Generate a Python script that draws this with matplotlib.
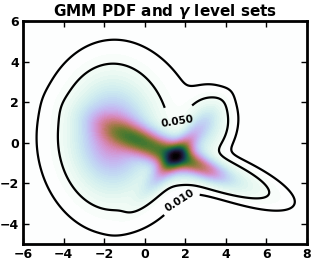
import numpy as np
import matplotlib
matplotlib.use("Agg")
import matplotlib.pyplot as plt

plt.rcParams['font.weight'] = 'bold'

# GMM components: weight, mean, std along main axis, std across, angle (deg)
weights = [0.63, 2.3, 0.8, 3.5, 0.5, 0.4, 0.36, 0.8]
means_x = [1.6, 0.3, 1.5, -1.6, 2.8, 3.8, 3.0, -1.2]
means_y = [-0.7, -0.15, -0.7, 0.3, -1.2, -1.6, 0.8, 0.2]
std_major = [0.7, 1.5, 1.3, 1.5, 0.9, 1.6, 0.8, 2.3]
std_minor = [0.55, 0.45, 0.3, 1.1, 0.3, 0.45, 0.6, 2.1]
angles = [30, -24, 50, 90, -25, -22, 70, 90]
gammas = [0.010, 0.050]
label_at = [(1.6, -2.7), (1.6, 1.1)]


def gmm_pdf(X, Y):
    Z = np.zeros_like(X)
    for w, mx, my, sa, sb, a in zip(weights, means_x, means_y,
                                    std_major, std_minor, angles):
        t = np.deg2rad(a)
        R = np.array([[np.cos(t), -np.sin(t)], [np.sin(t), np.cos(t)]])
        C = R @ np.diag([sa**2, sb**2]) @ R.T
        Ci = np.linalg.inv(C)
        dx = X - mx
        dy = Y - my
        q = Ci[0, 0]*dx*dx + 2*Ci[0, 1]*dx*dy + Ci[1, 1]*dy*dy
        Z += w * np.exp(-0.5*q) / (2*np.pi*np.sqrt(np.linalg.det(C)))
    return Z / sum(weights)


xs = np.linspace(-6, 8, 400)
ys = np.linspace(-5, 6, 320)
X, Y = np.meshgrid(xs, ys)
Z = gmm_pdf(X, Y)

# density threshold holding 1 - gamma of the mass
cell = (xs[1]-xs[0]) * (ys[1]-ys[0])
zs = np.sort(Z.ravel())[::-1]
mass = np.cumsum(zs) * cell
mass = mass / mass[-1]

fig = plt.figure(figsize=(3.12, 2.60), dpi=100)
ax = fig.add_axes([0.074, 0.062, 0.910, 0.857])
ax.contourf(X, Y, Z, levels=80, cmap='cubehelix_r')
for g, pos in zip(gammas, label_at):
    lvl = zs[np.searchsorted(mass, 1-g)]
    cs = ax.contour(X, Y, Z, levels=[lvl], colors='k', linewidths=1.6)
    ax.clabel(cs, fmt={lvl: '%.3f' % g}, fontsize=7.5, manual=[pos])

ax.set_xlim(-6, 8)
ax.set_ylim(-5, 6)
ax.set_xticks(range(-6, 9, 2))
ax.set_yticks(range(-4, 7, 2))
ax.tick_params(direction='in', top=True, right=True, length=4, width=1,
               labelsize=9, pad=3)
for s in ax.spines.values():
    s.set_linewidth(2)
ax.set_title(r'GMM PDF and $\gamma$ level sets', fontsize=11,
             fontweight='bold', pad=4)

fig.savefig('out.png', dpi=100)
